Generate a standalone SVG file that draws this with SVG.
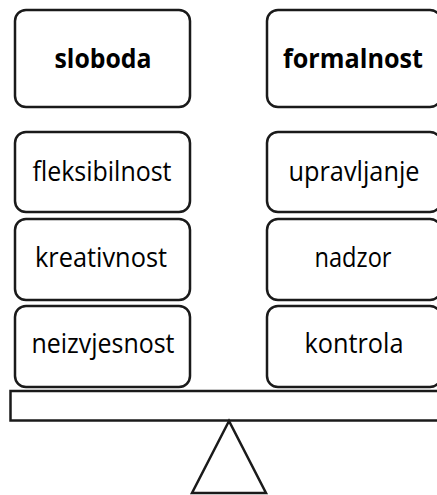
<svg xmlns="http://www.w3.org/2000/svg" width="437" height="495" viewBox="0 0 437 495">
<style>
.box{fill:#fff;stroke:#1a1a1a;stroke-width:2.5}
.t{font-family:"Open Sans","Liberation Sans",sans-serif;font-size:27px;fill:#000;text-anchor:middle}
.b{font-weight:bold}
.base{fill:#fff;stroke:#1a1a1a;stroke-width:2.5}
</style>
<rect width="437" height="495" fill="#fff"/>
<g id="sloboda"><rect class="box" x="15" y="10" width="175" height="97" rx="11"/><text class="t b" x="103" y="68" textLength="97" lengthAdjust="spacingAndGlyphs">sloboda</text></g>
<g id="formalnost"><rect class="box" x="267" y="10" width="174" height="97" rx="11"/><text class="t b" x="353" y="68" textLength="140" lengthAdjust="spacingAndGlyphs">formalnost</text></g>
<g id="fleksibilnost"><rect class="box" x="15" y="132" width="175" height="80" rx="11"/><text class="t" x="102" y="181" textLength="139" lengthAdjust="spacingAndGlyphs">fleksibilnost</text></g>
<g id="kreativnost"><rect class="box" x="15" y="219" width="175" height="81" rx="11"/><text class="t" x="101" y="267" textLength="132" lengthAdjust="spacingAndGlyphs">kreativnost</text></g>
<g id="neizvjesnost"><rect class="box" x="15" y="306" width="175" height="81" rx="11"/><text class="t" x="103" y="353" textLength="143" lengthAdjust="spacingAndGlyphs">neizvjesnost</text></g>
<g id="upravljanje"><rect class="box" x="267" y="132" width="174" height="80" rx="11"/><text class="t" x="354" y="181" textLength="131" lengthAdjust="spacingAndGlyphs">upravljanje</text></g>
<g id="nadzor"><rect class="box" x="267" y="219" width="174" height="81" rx="11"/><text class="t" x="353" y="267" textLength="77" lengthAdjust="spacingAndGlyphs">nadzor</text></g>
<g id="kontrola"><rect class="box" x="267" y="306" width="174" height="81" rx="11"/><text class="t" x="354" y="353" textLength="99" lengthAdjust="spacingAndGlyphs">kontrola</text></g>
<g id="connectors"></g>
<g id="seesaw">
<rect class="base" x="10.5" y="391" width="440" height="29.5"/>
<polygon class="base" points="229,421 192,493 266,493" stroke-width="2.2"/>
</g>
</svg>
